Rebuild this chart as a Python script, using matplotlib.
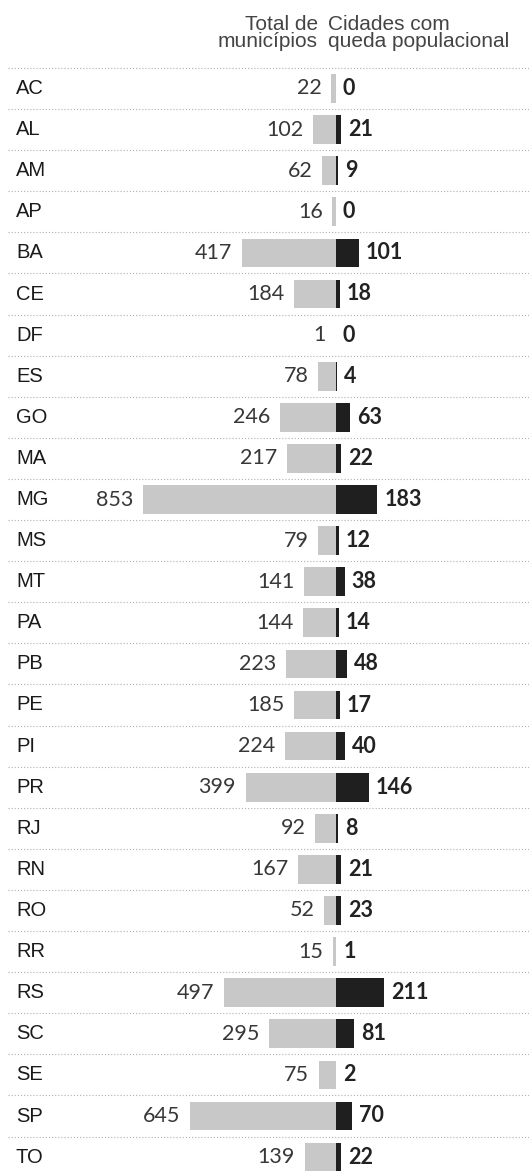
import matplotlib.pyplot as plt

# Data
states = ['AC', 'AL', 'AM', 'AP', 'BA', 'CE', 'DF', 'ES', 'GO', 'MA', 'MG', 'MS', 'MT', 'PA',
          'PB', 'PE', 'PI', 'PR', 'RJ', 'RN', 'RO', 'RR', 'RS', 'SC', 'SE', 'SP', 'TO']
total_municipios = [22, 102, 62, 16, 417, 184, 1, 78, 246, 217, 853, 79, 141, 144,
                    223, 185, 224, 399, 92, 167, 52, 15, 497, 295, 75, 645, 139]
cidades_queda = [0, 21, 9, 0, 101, 18, 0, 4, 63, 22, 183, 12, 38, 14,
                 48, 17, 40, 146, 8, 21, 23, 1, 211, 81, 2, 70, 22]

W, H = 529, 1175
fig = plt.figure(figsize=(W / 100, H / 100), dpi=100)
ax = fig.add_axes([0, 0, 1, 1])
ax.axis('off')

# pixel layout of the original
center_px = 336
px_per_unit = 0.226
row_px = 41.1
first_row_px = 88.5

ax.set_xlim(-center_px / px_per_unit, (W - center_px) / px_per_unit)
ax.set_ylim((H - first_row_px) / row_px, -first_row_px / row_px)

y = list(range(len(states)))

ax.barh(y, [-v for v in total_municipios], height=0.7, color='#c8c8c8', zorder=2)
ax.barh(y, cidades_queda, height=0.7, color='#1f1f1f', zorder=3)

# dotted separators
for i in range(len(states) + 1):
    ax.axhline(i - 0.5, xmin=8 / W, xmax=1, color='#b0b0b0', lw=0.8,
               linestyle=(0, (1, 1.8)), zorder=1)

ytr = ax.get_yaxis_transform()
for i, st in enumerate(states):
    ax.text(16 / W, i, st, transform=ytr, ha='left', va='center',
            fontsize=14.5, family='Liberation Sans', color='#1a1a1a')
    ax.annotate(str(total_municipios[i]), (-total_municipios[i], i),
                xytext=(-7, 0), textcoords='offset points', ha='right', va='center',
                fontsize=15.5, family='Lato', color='#383838')
    ax.annotate(str(cidades_queda[i]), (cidades_queda[i], i),
                xytext=(5, 0), textcoords='offset points', ha='left', va='center',
                fontsize=15.5, family='Lato', fontweight='bold', color='#222222')

# column headers
fig.text(318 / W, 1 - 33 / H, 'Total de\nmunicípios', ha='right', va='center',
         fontsize=15, family='Liberation Sans', color='#444444', linespacing=0.85,
         multialignment='right')
fig.text(328 / W, 1 - 33 / H, 'Cidades com\nqueda populacional', ha='left', va='center',
         fontsize=15, family='Liberation Sans', color='#444444', linespacing=0.85,
         multialignment='left')

fig.savefig('out.png', dpi=100, facecolor='white')
